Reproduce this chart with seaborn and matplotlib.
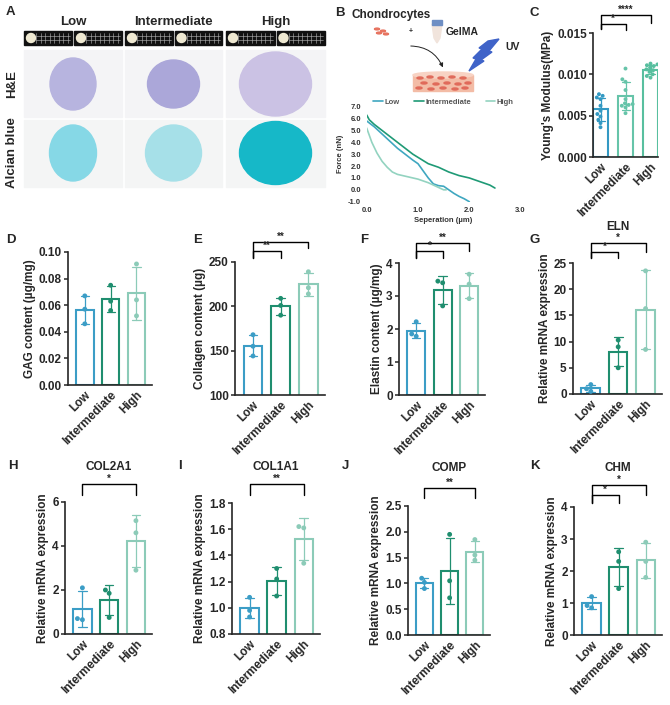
import numpy as np
import pandas as pd
import seaborn as sns
import matplotlib.pyplot as plt
from matplotlib.patches import Ellipse, Rectangle, Circle, Polygon, FancyArrowPatch
from matplotlib.transforms import blended_transform_factory

sns.set_style('ticks')
plt.rcParams['font.family'] = ['Liberation Sans', 'DejaVu Sans']
plt.rcParams['font.weight'] = 'bold'
plt.rcParams['axes.labelweight'] = 'bold'

W, H = 670, 705
groups = ['Low', 'Intermediate', 'High']
palette = {'Low': '#3b9dc6', 'Intermediate': '#1f8e6f', 'High': '#8ccbb8'}
palette_c = {'Low': '#3399c3', 'Intermediate': '#66c4a9', 'High': '#58bf9f'}

# B: AFM force curves (Separation in um, Force in nN)
low_sep = [0.0, 0.15, 0.3, 0.45, 0.6, 0.75, 0.9, 1.0, 1.1, 1.2, 1.3, 1.4, 1.5, 1.6, 1.7, 1.8, 1.9, 2.0]
low_force = [5.8, 5.3, 4.7, 4.1, 3.5, 3.0, 2.5, 2.2, 1.6, 1.0, 0.5, 0.35, 0.3, 0.0, -0.3, -0.55, -0.75, -1.0]
int_sep = [0.0, 0.05, 0.15, 0.3, 0.45, 0.6, 0.75, 0.9, 1.05, 1.2, 1.4, 1.6, 1.8, 2.0, 2.2, 2.4, 2.5]
int_force = [6.3, 5.9, 5.5, 5.0, 4.5, 4.0, 3.5, 3.0, 2.6, 2.2, 1.9, 1.5, 1.2, 1.0, 0.7, 0.4, 0.15]
high_sep = [0.0, 0.05, 0.1, 0.2, 0.3, 0.4, 0.5, 0.6, 0.7, 0.8, 0.9, 1.0, 1.1, 1.2, 1.3, 1.4, 1.5, 1.55]
high_force = [5.2, 4.6, 4.0, 3.1, 2.4, 1.9, 1.5, 1.3, 1.2, 1.1, 1.0, 0.9, 0.75, 0.6, 0.4, 0.2, 0.0, 0.0]

# C: Young's modulus (MPa)
young_low = [0.0076, 0.0074, 0.0072, 0.0070, 0.0062, 0.0056, 0.0052, 0.0049, 0.0045, 0.0041, 0.0036]
young_int = [0.0107, 0.0094, 0.0091, 0.0081, 0.0070, 0.0065, 0.0064, 0.0063, 0.0062, 0.0060, 0.0053]
young_high = [0.0113, 0.0112, 0.0111, 0.0110, 0.0108, 0.0106, 0.0105, 0.0103, 0.0100, 0.0098, 0.0096]

# D-G
gag = [[0.067, 0.057, 0.046], [0.075, 0.063, 0.056], [0.091, 0.064, 0.052]]
collagen = [[168, 155, 144], [209, 201, 190], [239, 221, 214]]
elastin = [[2.22, 1.85, 1.78], [3.45, 3.40, 2.70], [3.66, 3.36, 2.92]]
eln = [[1.8, 1.0, 0.5], [10.3, 9.0, 5.0], [23.5, 16.3, 8.5]]

# H-K
col2a1 = [[2.1, 0.65, 0.7], [2.0, 1.85, 0.75], [5.15, 4.6, 2.9]]
col1a1 = [[1.08, 0.98, 0.93], [1.30, 1.22, 1.09], [1.62, 1.61, 1.34]]
comp = [[1.10, 1.02, 0.90], [1.95, 1.05, 0.72], [1.85, 1.55, 1.45]]
chm = [[1.20, 0.92, 0.85], [2.60, 2.30, 1.45], [2.90, 2.30, 1.80]]

FS = 8.5

fig = plt.figure(figsize=(W / 100, H / 100), dpi=100)


def add_ax(x0, y0, x1, y1):
    return fig.add_axes([x0 / W, 1 - y1 / H, (x1 - x0) / W, (y1 - y0) / H])


def fy(p):
    return 1 - p / H


def letter(x, y, s):
    fig.text(x / W, fy(y), s, fontsize=9.5, fontweight='bold', ha='left', va='center')


def bracket(ax, x1, x2, top, bot1, bot2, label):
    tr = blended_transform_factory(ax.transData, fig.transFigure)
    ax.plot([x1, x1, x2, x2], [fy(bot1), fy(top), fy(top), fy(bot2)], transform=tr,
            color='black', lw=1.0, clip_on=False)
    ax.text((x1 + x2) / 2, fy(top - 0.5), label, transform=tr, ha='center', va='bottom',
            fontsize=7, fontweight='bold')


def bar_panel(box, vals, ylim, yticks, ylabel, fmt='{:g}', title=None, xlim=(-0.65, 2.6),
              width=0.68, dot=3.5, pal=palette):
    ax = add_ax(*box)
    df = pd.DataFrame({'group': np.repeat(groups, [len(v) for v in vals]),
                       'value': np.concatenate(vals)})
    sns.barplot(data=df, x='group', y='value', hue='group', order=groups, palette=pal,
                fill=False, errorbar='sd', capsize=0.32, width=width, linewidth=1.5,
                err_kws={'linewidth': 0.9}, legend=False, ax=ax)
    sns.swarmplot(data=df, x='group', y='value', hue='group', order=groups, palette=pal,
                  size=dot, legend=False, ax=ax)
    ax.set_xlim(*xlim)
    ax.set_ylim(*ylim)
    ax.set_yticks(yticks)
    ax.set_yticklabels([fmt.format(t) for t in yticks], fontsize=FS, fontweight='bold')
    ax.set_xticks(range(3))
    ax.set_xticklabels(groups, rotation=45, ha='right', rotation_mode='anchor',
                       fontsize=FS, fontweight='bold')
    ax.tick_params(axis='x', length=0, pad=3)
    ax.tick_params(axis='y', length=3, width=1.1, pad=1.5)
    ax.set_xlabel('')
    ax.set_ylabel(ylabel, fontsize=FS, fontweight='bold', labelpad=2)
    sns.despine(ax=ax)
    for s in ['left', 'bottom']:
        ax.spines[s].set_linewidth(1.2)
    if title:
        fig.text((box[0] + box[2]) / 2 / W, fy(title[1]), title[0], ha='center', va='center',
                 fontsize=FS, fontweight='bold')
    return ax


# ---------------- A: histology panels ----------------
axA = add_ax(0, 0, 330, 192)
axA.set_xlim(0, 330)
axA.set_ylim(192, 0)
axA.axis('off')
col_x = [(24, 122), (125, 222), (226, 325)]
he_col = ['#b7b4df', '#aba7d9', '#cbc2e4']
ab_col = ['#86d8e6', '#a6e0e8', '#16b8c8']
he_size = [(46, 52), (52, 48), (72, 64)]
ab_size = [(47, 56), (56, 56), (72, 63)]
for i, (xa, xb) in enumerate(col_x):
    cx = (xa + xb) / 2
    axA.text(cx, 22, groups[i], ha='center', va='center', fontsize=9.5, fontweight='bold')
    mid = (xa + xb) / 2
    for ta, tb in [(xa, mid - 1), (mid + 1, xb)]:
        axA.add_patch(Rectangle((ta, 31), tb - ta, 14, color='#111111'))
        for gx in np.arange(ta + 12, tb - 2, 4.5):
            axA.plot([gx, gx], [33, 43], color='#bbbbbb', lw=0.4)
        for gy in [35.5, 40]:
            axA.plot([ta + 12, tb - 2], [gy, gy], color='#bbbbbb', lw=0.4)
        axA.add_patch(Circle((ta + 7, 38), 4.5, color='#efe9d2'))
    axA.add_patch(Rectangle((xa, 50), xb - xa, 67, color='#f4f4f6'))
    axA.add_patch(Rectangle((xa, 120), xb - xa, 67, color='#f4f5f5'))
    axA.add_patch(Ellipse((cx, 84), *he_size[i], color=he_col[i]))
    axA.add_patch(Ellipse((cx, 153), *ab_size[i], color=ab_col[i]))
axA.text(12, 84, 'H&E', rotation=90, ha='center', va='center', fontsize=9.5, fontweight='bold')
axA.text(12, 153, 'Alcian blue', rotation=90, ha='center', va='center', fontsize=9.5,
         fontweight='bold')
letter(6, 12, 'A')

# ---------------- B: schematic ----------------
axS = add_ax(335, 0, 530, 96)
axS.set_xlim(335, 530)
axS.set_ylim(96, 0)
axS.axis('off')
axS.text(352, 15, 'Chondrocytes', ha='left', va='center', fontsize=8.5, fontweight='bold')
for (cx, cy) in [(377, 29), (383, 31), (379, 33), (386, 34)]:
    axS.add_patch(Ellipse((cx, cy), 5, 1.8, color='#e7735f'))
axS.text(411, 31, '+', ha='center', va='center', fontsize=5)
axS.add_patch(Polygon([(432, 24), (442, 24), (440, 38), (437, 43), (434, 38)],
                      color='#f1e4dc'))
axS.add_patch(Rectangle((432, 20), 10, 5, color='#6f8fc4'))
axS.text(446, 32, 'GelMA', ha='left', va='center', fontsize=7.5, fontweight='bold')
axS.add_patch(FancyArrowPatch((408, 46), (444, 70), connectionstyle='arc3,rad=-0.35',
                              arrowstyle='-|>', mutation_scale=6, lw=0.7, color='#222222'))
axS.add_patch(Polygon([(499, 39), (489, 51), (492, 52), (481, 60), (484, 61), (469, 71),
                       (476, 59), (473, 58), (482, 49), (479, 48), (488, 41)],
                      color='#3f63c8'))
axS.text(505, 47, 'UV', ha='left', va='center', fontsize=7.5, fontweight='bold')
axS.add_patch(Rectangle((413, 75), 60, 16, color='#f3bca6'))
axS.add_patch(Ellipse((443, 75), 60, 6, color='#f8d3c4'))
for (cx, cy) in [(420, 78), (430, 77), (441, 78), (452, 77), (463, 78), (424, 83),
                 (436, 84), (447, 83), (458, 84), (468, 83), (419, 88), (431, 89),
                 (443, 88), (455, 89), (465, 88)]:
    axS.add_patch(Ellipse((cx, cy), 6, 2, color='#e06a5a'))
letter(335, 13, 'B')

# ---------------- B: force curves ----------------
axB = add_ax(366.7, 106.7, 520.6, 201.7)
lw = 1.2
sns.lineplot(x=low_sep, y=low_force, color='#3fa7c0', lw=lw, label='Low', ax=axB, sort=False)
sns.lineplot(x=int_sep, y=int_force, color='#1f9a76', lw=lw, label='Intermediate', ax=axB,
             sort=False)
sns.lineplot(x=high_sep, y=high_force, color='#93d3c0', lw=lw, label='High', ax=axB,
             sort=False)
axB.set_xlim(0, 3)
axB.set_ylim(-1, 7)
axB.set_xticks([0, 1, 2, 3])
axB.set_xticklabels(['0.0', '1.0', '2.0', '3.0'], fontsize=5.5, color='#333333')
axB.set_yticks(range(-1, 8))
axB.set_yticklabels(['{:.1f}'.format(v) for v in range(-1, 8)], fontsize=5.5, color='#333333')
axB.tick_params(length=0, pad=4)
for s in axB.spines.values():
    s.set_visible(False)
axB.set_xlabel('Seperation (\u00b5m)', fontsize=5.5, color='#333333', labelpad=2)
axB.set_ylabel('Force (nN)', fontsize=5.5, color='#333333', labelpad=3)
axB.legend(ncol=3, frameon=False, loc='lower center', bbox_to_anchor=(0.5, 0.98),
           fontsize=5.5, handlelength=1.2, handletextpad=0.2, columnspacing=2.0,
           labelcolor='#555555', borderaxespad=0)

# ---------------- C ----------------
axC = bar_panel((593, 33, 658, 157), [young_low, young_int, young_high], (0, 0.015),
                [0, 0.005, 0.010, 0.015], "Young's Modulus(MPa)", fmt='{:.3f}',
                xlim=(-0.3, 2.3), width=0.6, dot=2.8, pal=palette_c)
bracket(axC, 0, 2, 15, 29, 23, '****')
bracket(axC, 0, 1, 24, 29, 30, '*')
letter(530, 13, 'C')

# ---------------- D-G ----------------
axD = bar_panel((68, 252, 152, 385), gag, (0, 0.10), [0, 0.02, 0.04, 0.06, 0.08, 0.10],
                'GAG content (\u00b5g/mg)', fmt='{:.2f}')
letter(6, 240, 'D')

axE = bar_panel((235, 262, 325, 395), collagen, (100, 250), [100, 150, 200, 250],
                'Collagen content (\u00b5g)')
bracket(axE, 0, 2, 242, 258, 248, '**')
bracket(axE, 0, 1, 251, 258, 258, '**')
letter(193, 240, 'E')

axF = bar_panel((399, 263, 485, 395), elastin, (0, 4), [0, 1, 2, 3, 4],
                'Elastin content (\u00b5g/mg)')
bracket(axF, 0, 2, 243, 258, 251, '**')
bracket(axF, 0, 1, 251, 258, 258, '*')
letter(360, 240, 'F')

axG = bar_panel((573, 263, 662, 394), eln, (0, 25), [0, 5, 10, 15, 20, 25],
                'Relative mRNA expression', title=('ELN', 227))
bracket(axG, 0, 2, 243, 258, 252, '*')
bracket(axG, 0, 1, 252, 258, 258, '*')
letter(530, 240, 'G')

# ---------------- H-K ----------------
axH = bar_panel((65, 502, 152, 634), col2a1, (0, 6), [0, 2, 4, 6],
                'Relative mRNA expression', title=('COL2A1', 467))
bracket(axH, 0, 2, 484, 495, 495, '*')
letter(8, 466, 'H')

axI = bar_panel((232, 503, 320, 634), col1a1, (0.8, 1.8), [0.8, 1.0, 1.2, 1.4, 1.6, 1.8],
                'Relative mRNA expression', fmt='{:.1f}', title=('COL1A1', 467))
bracket(axI, 0, 2, 484, 495, 495, '**')
letter(178, 466, 'I')

axJ = bar_panel((408, 506, 490, 635), comp, (0, 2.5), [0, 0.5, 1.0, 1.5, 2.0, 2.5],
                'Relative mRNA expression', fmt='{:.1f}', title=('COMP', 468))
bracket(axJ, 0, 2, 488, 498, 498, '**')
letter(342, 466, 'J')

axK = bar_panel((574, 507, 662, 635), chm, (0, 4), [0, 1, 2, 3, 4],
                'Relative mRNA expression', title=('CHM', 468))
bracket(axK, 0, 2, 485, 503, 495, '*')
bracket(axK, 0, 1, 495, 503, 503, '*')
letter(530, 466, 'K')

fig.savefig('out.png', dpi=100)
